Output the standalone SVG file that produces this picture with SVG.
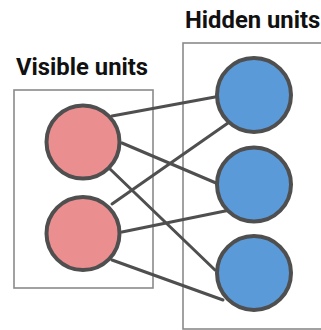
<svg xmlns="http://www.w3.org/2000/svg" width="321" height="330" viewBox="0 0 321 330">
<style>
.box{fill:none;stroke:#8a8a8a;stroke-width:1.6}
.lbl{font-family:Roboto,"Liberation Sans",sans-serif;font-weight:bold;font-size:23.8px;fill:#111}
.edge{stroke:#4f4f4f;stroke-width:3;fill:none;stroke-linecap:round}
.vis{fill:#ea8e90;stroke:#4f4f4f;stroke-width:4}
.hid{fill:#5b9ad9;stroke:#4f4f4f;stroke-width:4}
</style>
<rect width="321" height="330" fill="#fff"/>
<g id="visible-layer">
<rect class="box" x="14" y="90" width="139" height="198"/>
<text class="lbl" x="16" y="75">Visible units</text>
</g>
<g id="hidden-layer">
<rect class="box" x="183" y="43" width="150" height="286"/>
<text class="lbl" x="185" y="28">Hidden units</text>
</g>
<g id="connectors">
<line class="edge" x1="112" y1="116" x2="215" y2="97"/>
<line class="edge" x1="122" y1="143" x2="216" y2="183"/>
<line class="edge" x1="110" y1="169" x2="215" y2="270"/>
<line class="edge" x1="112" y1="204" x2="228" y2="123"/>
<line class="edge" x1="122" y1="232" x2="230" y2="210"/>
<line class="edge" x1="112" y1="260" x2="223" y2="300"/>
</g>
<g id="v1"><circle class="vis" cx="83" cy="142" r="36.5"/></g>
<g id="v2"><circle class="vis" cx="83" cy="233.5" r="36.5"/></g>
<g id="h1"><circle class="hid" cx="254" cy="95" r="37"/></g>
<g id="h2"><circle class="hid" cx="254" cy="184.5" r="37"/></g>
<g id="h3"><circle class="hid" cx="254" cy="273" r="37"/></g>
</svg>
